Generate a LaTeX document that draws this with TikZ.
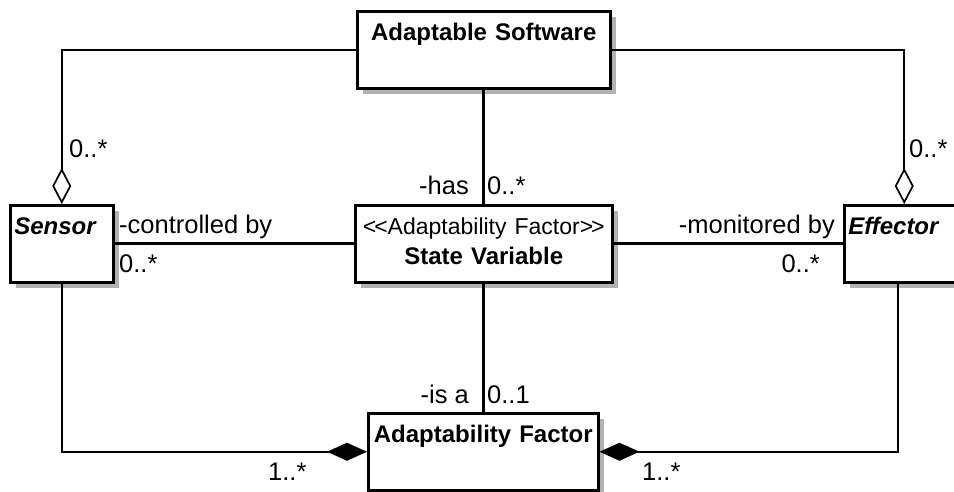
\documentclass[tikz,border=0pt]{standalone}
\usepackage{fontspec}
\setmainfont{Liberation Sans}
\usepackage{tikz}
\usetikzlibrary{arrows.meta,shadows}

\tikzset{
  umlclass/.style={draw, fill=white, line width=2.5pt, anchor=north west,
    inner xsep=4pt, inner ysep=0pt, text height=29pt, text depth=48pt,
    font=\fontsize{24}{30}\selectfont\bfseries,
    drop shadow={shadow xshift=6pt, shadow yshift=-6pt, fill=black!30, opacity=1}},
  mult/.style={inner sep=0pt, font=\fontsize{25.5}{30}\selectfont},
  assoc/.style={line width=3pt},
  aggr/.style={line width=1.7pt, -{Diamond[open,length=36pt,width=19pt]}},
  comp/.style={line width=1.7pt, -{Diamond[length=40pt,width=18pt]}}
}

\begin{document}
\begin{tikzpicture}[x=1pt,y=-1pt]
\useasboundingbox (0,0) rectangle (954,491);

% classes
\node[umlclass, text width=245pt, align=center] (soft) at (356,10) {Adaptable Software};
\node[umlclass, text width=95pt, align=left] (sensor) at (9,204) {\itshape Sensor};
\node[umlclass, text width=249pt, align=center] (state) at (354,204)
  {\makebox[\linewidth]{\mdseries\fontsize{23}{30}\selectfont
   <\kern-2pt<Adaptability Factor>\kern-2pt>}\\ State Variable};
\node[umlclass, text width=112pt, align=left] (effector) at (843,204) {\itshape Effector};
\node[umlclass, text width=222pt, align=center] (factor) at (367,412) {Adaptability Factor};

% aggregations from the software
\draw[aggr] (soft.west) -| (sensor.north);
\draw[aggr] (soft.east) -| (effector.north);

% associations with the state variable
\draw[assoc] (soft) -- (state);
\draw[assoc] (sensor) -- (state);
\draw[assoc] (state) -- (effector);
\draw[assoc] (state.south) -- (state.south |- factor.north);

% compositions into the factor
\draw[comp] (sensor.south) |- (factor.west);
\draw[comp] ([xshift=-6pt]effector.south) |- (factor.east);

% roles and multiplicities
\node[mult, anchor=base west] (m1) at (69,157) {0..*};
\node[mult, anchor=base west] (m2) at (909,157) {0..*};
\node[mult, anchor=base east] (r1) at (469,194) {-has};
\node[mult, anchor=base west] (m3) at (487,194) {0..*};
\node[mult, anchor=base west] (r2) at (119,233) {-controlled by};
\node[mult, anchor=base west] (m4) at (119,272) {0..*};
\node[mult, anchor=base east] (r3) at (835,233) {-monitored by};
\node[mult, anchor=base east] (m5) at (820,272) {0..*};
\node[mult, anchor=base east] (r4) at (469,403) {-is a};
\node[mult, anchor=base west] (m6) at (487,403) {0..1};
\node[mult, anchor=base west] (m7) at (268,480) {1..*};
\node[mult, anchor=base west] (m8) at (642,480) {1..*};
\end{tikzpicture}
\end{document}
